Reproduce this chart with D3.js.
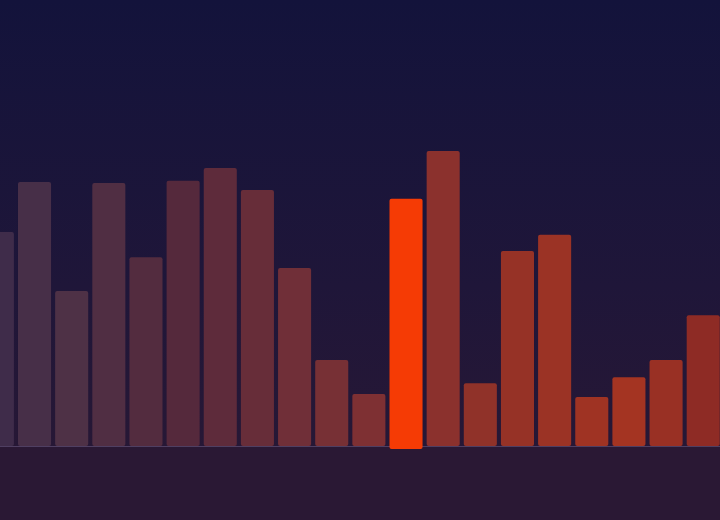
<!DOCTYPE html>
<html>
<head>
<meta charset="utf-8">
<script src="https://cdn.jsdelivr.net/npm/d3@7"></script>
<style>
  html, body { margin: 0; padding: 0; background: #1c1638; }
  svg { display: block; }
</style>
</head>
<body>
<div id="chart"></div>
<script>
// Data
const categories = d3.range(20).map((i) => `b${i + 1}`);
const values = [
  71.3, 88.0, 51.7, 87.7, 62.9, 88.4, 92.7, 85.3, 59.3, 28.7,
  17.3, 82.4, 98.3, 20.9, 65.0, 70.4, 16.3, 22.9, 28.7, 43.6,
];
const highlighted = "b12";

const W = 720;
const H = 520;
const baseY = 446;

const svg = d3
  .select("#chart")
  .append("svg")
  .attr("width", W)
  .attr("height", H);

// Background gradient
const defs = svg.append("defs");
const bg = defs
  .append("linearGradient")
  .attr("id", "bg")
  .attr("x1", 0)
  .attr("x2", 0)
  .attr("y1", 0)
  .attr("y2", 1);
bg.append("stop").attr("offset", "0%").attr("stop-color", "#13133b");
bg.append("stop").attr("offset", "55%").attr("stop-color", "#1f1639");
bg.append("stop").attr("offset", "100%").attr("stop-color", "#2a1834");

svg.append("rect").attr("width", W).attr("height", H).attr("fill", "url(#bg)");

// The view is panned a bit, so the range runs past both edges.
const x = d3
  .scaleBand()
  .domain(categories)
  .range([-21.2, 721.8])
  .paddingInner(0.11)
  .paddingOuter(0.055);

const y = d3.scaleLinear().domain([0, 100]).range([baseY, baseY - 300]);

// colour ramp along the bars, purple on the left to rust on the right
const color = d3
  .scaleLinear()
  .domain([0, 2, 5, 8, 11, 14, 17, 19])
  .range(["#3f2c4a", "#4e3146", "#55293c", "#702f38", "#853130", "#963226", "#a43422", "#8e2b25"])
  .interpolate(d3.interpolateRgb);

// Baseline area below the bars
svg
  .append("rect")
  .attr("x", 0)
  .attr("y", baseY)
  .attr("width", W)
  .attr("height", H - baseY)
  .attr("fill", "#2a1834");

svg
  .append("line")
  .attr("x1", 0)
  .attr("x2", W)
  .attr("y1", baseY + 0.5)
  .attr("y2", baseY + 0.5)
  .attr("stroke", "#4f3f62")
  .attr("stroke-width", 1);

const data = categories.map((c, i) => ({ key: c, index: i, value: values[i] }));

svg
  .append("g")
  .attr("class", "bars")
  .selectAll("rect")
  .data(data)
  .join("rect")
  .attr("x", (d) => x(d.key))
  .attr("width", x.bandwidth())
  .attr("y", (d) => y(d.value))
  .attr("height", (d) => (d.key === highlighted ? baseY + 3 : baseY) - y(d.value))
  .attr("rx", 2)
  .attr("fill", (d) => (d.key === highlighted ? "#f53b05" : color(d.index)));
</script>
</body>
</html>
